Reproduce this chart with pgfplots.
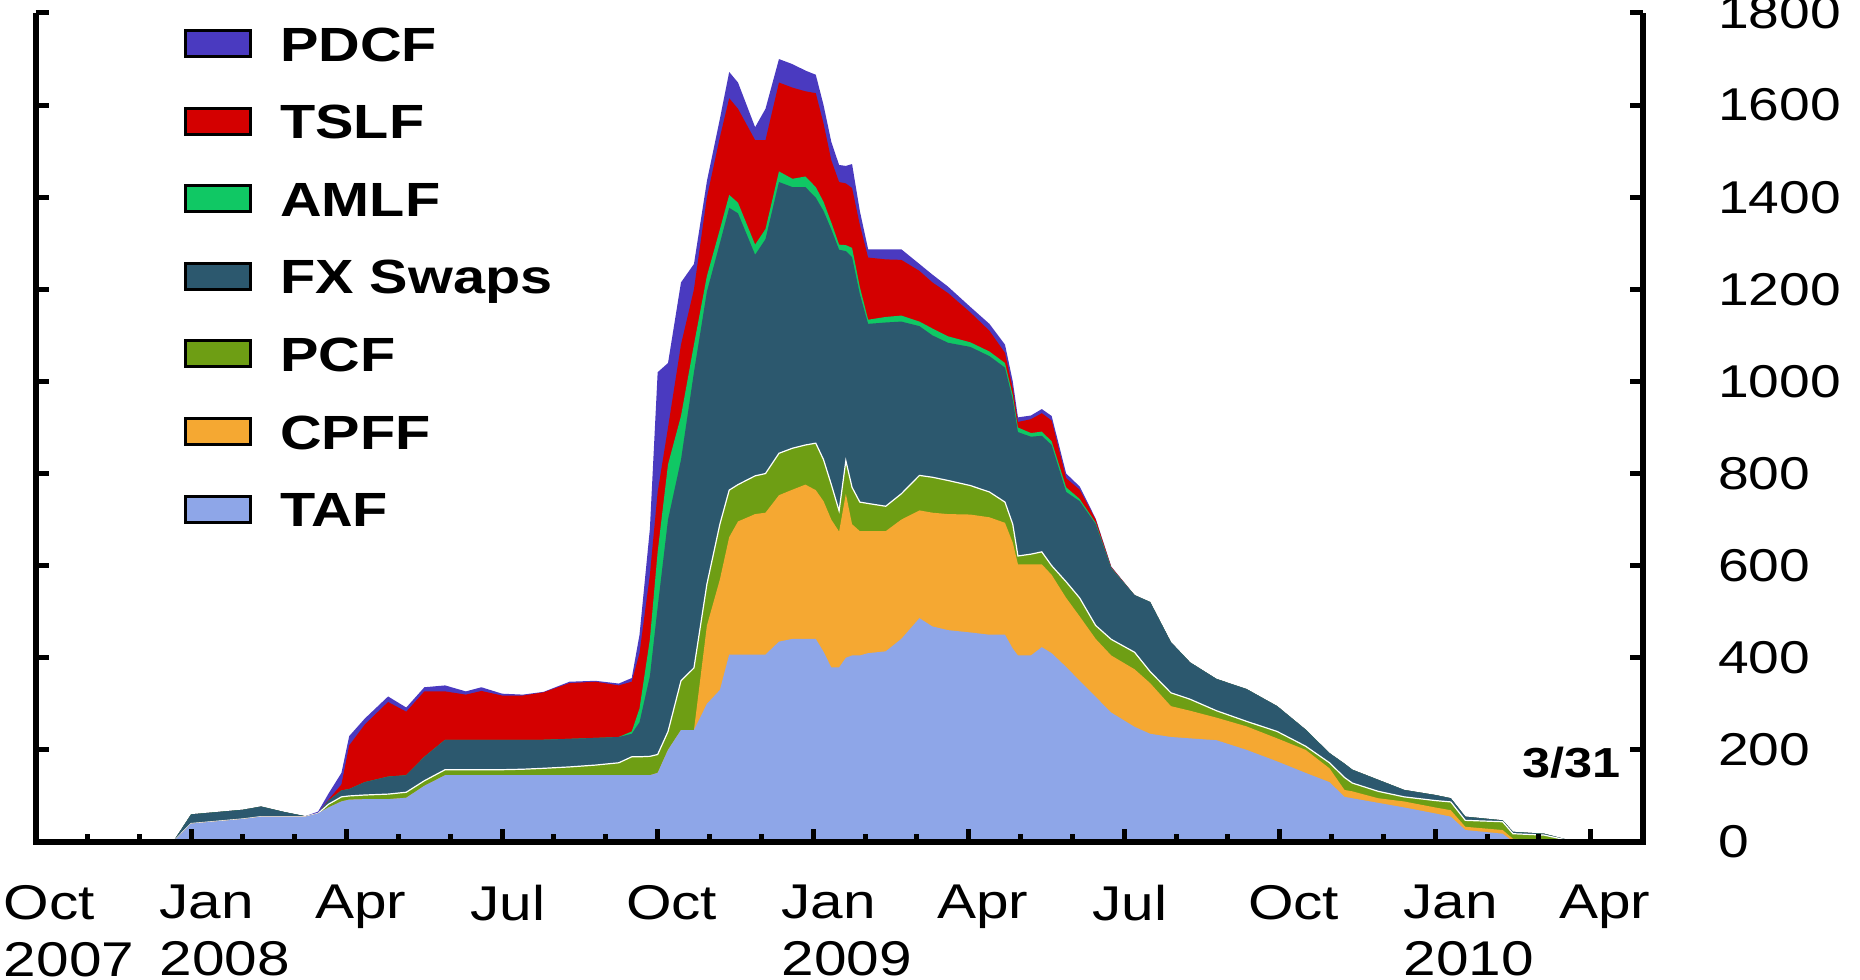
\documentclass[border=0pt]{standalone}
\usepackage{fontspec}
\setmainfont[FakeStretch=1.2]{Liberation Sans}
\usepackage{pgfplots}
\usepackage{pgfplotstable}
\pgfplotsset{compat=1.18}

\definecolor{cPDCF}{RGB}{74,58,192}
\definecolor{cTSLF}{RGB}{212,0,0}
\definecolor{cAMLF}{RGB}{16,200,100}
\definecolor{cFX}{RGB}{44,88,110}
\definecolor{cPCF}{RGB}{110,158,20}
\definecolor{cCPFF}{RGB}{245,168,50}
\definecolor{cTAF}{RGB}{142,166,232}

% m = months since 1 Oct 2007; T1..T7 = cumulative tops (TAF, +CPFF, +PCF, +FX Swaps, +AMLF, +TSLF, +PDCF), $bn
\pgfplotstableread{
m     T1   T2   T3   T4   T5   T6   T7
0     0    0    0    0    0    0    0
2.65  0    0    0    0    0    0    0
3.0   40   40   40   60   60   60   60
3.5   45   45   45   65   65   65   65
4.0   50   50   50   70   70   70   70
4.35  55   55   55   77   77   77   77
4.8   55   55   55   65   65   65   65
5.2   55   55   55   56   56   56   56
5.45  62   62   62   62   62   62   66
5.65  75   75   82   90   90   92   105
5.9   88   88   98   112  112  125  150
6.05  92   92   100  115  115  210  230
6.35  93   93   102  130  130  255  268
6.8   93   93   104  142  142  304  316
7.15  96   96   108  145  145  283  292
7.5   122  122  133  185  185  327  336
7.9   145  145  157  222  222  327  340
8.3   145  145  157  222  222  320  327
8.6   145  145  157  222  222  328  336
9.0   145  145  157  222  222  318  322
9.4   145  145  158  222  222  318  320
9.8   145  145  160  222  222  325  326
10.3  145  145  163  224  224  345  348
10.8  145  145  167  226  226  348  350
11.25 145  145  172  228  228  340  344
11.5  145  145  185  235  240  348  356
11.65 145  145  185  260  290  410  450
11.85 145  145  186  360  440  580  680
12.0  150  150  190  510  630  760  1020
12.2  200  200  240  700  820  900  1040
12.45 243  243  350  830  925  1080 1215
12.7  243  243  378  1020 1080 1200 1255
12.95 300  470  560  1195 1229 1400 1435
13.2  330  570  690  1300 1330 1530 1570
13.38 407  662  764  1377 1405 1615 1672
13.55 407  696  776  1365 1388 1592 1649
13.88 407  712  795  1275 1297 1524 1552
14.08 407  715  800  1309 1331 1524 1592
14.34 435  753  844  1433 1456 1649 1700
14.6  441  765  855  1422 1440 1638 1689
14.85 441  776  862  1422 1445 1630 1675
15.05 441  764  866  1399 1422 1626 1666
15.2  413  740  830  1370 1390 1560 1600
15.35 379  700  776  1330 1345 1480 1520
15.5  379  674  719  1286 1297 1433 1470
15.63 400  756  828  1283 1296 1430 1468
15.75 405  690  770  1270 1290 1420 1472
15.9  405  675  738  1190 1205 1340 1370
16.06 410  675  735  1125 1134 1269 1287
16.4  414  675  729  1128 1140 1265 1287
16.7  441  700  756  1130 1143 1264 1287
17.05 486  720  796  1120 1130 1240 1255
17.3  468  715  792  1100 1115 1215 1232
17.6  460  712  785  1084 1098 1192 1206
18.03 455  711  774  1075 1085 1150 1162
18.4  450  705  760  1055 1065 1110 1125
18.7  450  693  738  1030 1040 1062 1080
18.85 420  650  690  960  970  985  1000
18.95 405  603  621  890  900  912  922
19.2  405  603  625  880  888  918  926
19.41 423  603  630  882  891  931  940
19.6  410  580  600  862  870  915  925
19.88 380  530  565  760  770  790  800
20.14 350  490  530  740  745  765  772
20.45 315  441  470  690  693  700  702
20.75 281  405  440  594  595  597  598
21.2  250  375  412  536  536  536  536
21.5  235  345  370  521  521  521  521
21.9  228  295  324  434  434  434  434
22.27 225  285  310  390  390  390  390
22.78 221  270  285  354  354  354  354
23.36 200  251  262  332  332  332  332
23.95 175  225  240  295  295  295  295
24.5  150  200  208  244  244  244  244
24.96 130  160  172  193  193  193  193
25.25 98   113  140  170  170  170  170
25.4  95   110  128  157  157  157  157
25.9  85   95   110  135  135  135  135
26.4  75   88   98   113  113  113  113
27.0  62   75   90   102  102  102  102
27.3  55   69   87   95   95   95   95
27.58 26   33   47   55   55   55   55
28.3  18   26   44   47   47   47   47
28.5  1    7    18   22   22   22   22
29.1  0    4    15   18   18   18   18
29.55 0    2    4    5    5    5    5
30.0  0    0    0    1    1    1    1
}\cumdata

\begin{document}
\begin{tikzpicture}
\path[use as bounding box] (-17.8pt,-69pt) rectangle (912.2pt,421pt);
\begin{axis}[
  at={(0,0)}, anchor=south west,
  scale only axis, width=803.5pt, height=414.5pt,
  xmin=0, xmax=31, ymin=0, ymax=1800,
  clip=false,
  axis line style={draw=none},
  axis on top,
  tick align=inside,
  xtick={0,3,...,30},
  minor xtick={1,2,4,5,7,8,10,11,13,14,16,17,19,20,22,23,25,26,28,29},
  xtick pos=left,
  xticklabels={{Oct\\2007},{Jan\\2008},Apr,Jul,Oct,{Jan\\2009},Apr,Jul,Oct,{Jan\\2010},Apr},
  xticklabel style={anchor=north west, align=left, inner sep=0pt, xshift=-16pt, yshift=-21.5pt, font=\fontsize{24.4}{28.5}\selectfont},
  ytick={0,200,...,1800},
  yticklabels={0,200,400,600,800,1000,1200,1400,1600,1800},
  ytick pos=both, yticklabel pos=right,
  yticklabel style={anchor=west, inner sep=0pt, xshift=37.5pt, font=\fontsize{23}{23}\selectfont},
  major tick length=6.5pt, minor tick length=4pt,
  every major tick/.append style={line width=2.5pt, black},
  every minor tick/.append style={line width=2.5pt, black},
  legend image code/.code={\draw[#1,draw=black,line width=1.5pt] (0pt,-6.5pt) rectangle (32.5pt,6.5pt);},
  legend cell align=left,
  legend style={at={(0.0923,0.9843)}, anchor=north west, draw=none, fill=none,
    inner sep=0pt, outer sep=0pt, row sep=21.3pt, column sep=14.2pt,
    font=\bfseries\fontsize{24}{24}\selectfont,
    nodes={inner sep=0pt, text height=17.5pt, text depth=0pt}},
]
\addplot[fill=cPDCF, draw=none] table[x=m,y=T7]{\cumdata} \closedcycle;
\addlegendentry{PDCF}
\addplot[fill=cTSLF, draw=none] table[x=m,y=T6]{\cumdata} \closedcycle;
\addlegendentry{TSLF}
\addplot[fill=cAMLF, draw=none] table[x=m,y=T5]{\cumdata} \closedcycle;
\addlegendentry{AMLF}
\addplot[fill=cFX, draw=none] table[x=m,y=T4]{\cumdata} \closedcycle;
\addlegendentry{FX Swaps}
\addplot[fill=cPCF, draw=white, line width=0.6pt] table[x=m,y=T3]{\cumdata} \closedcycle;
\addlegendentry{PCF}
\addplot[fill=cCPFF, draw=none] table[x=m,y=T2]{\cumdata} \closedcycle;
\addlegendentry{CPFF}
\addplot[fill=cTAF, draw=none] table[x=m,y=T1]{\cumdata} \closedcycle;
\addlegendentry{TAF}
\draw[line width=3pt, line join=miter] (rel axis cs:0,1) -- (rel axis cs:0,0) -- (rel axis cs:1,0) -- (rel axis cs:1,1);
\node[anchor=base east, inner sep=0pt, font=\bfseries\fontsize{21}{21}\selectfont] at (axis cs:30.58,139) {3/31};
\end{axis}
\end{tikzpicture}
\end{document}
